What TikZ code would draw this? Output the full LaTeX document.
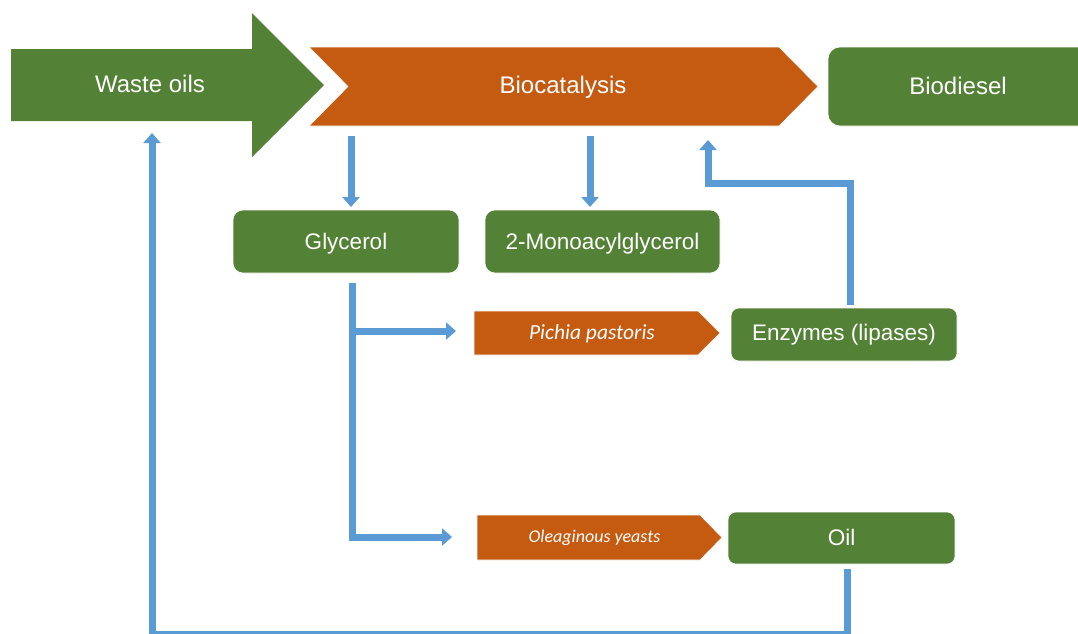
\documentclass[tikz,border=0pt]{standalone}
\usepackage{fontspec}
\setmainfont{Liberation Sans}
\newfontfamily\calibrifont{Carlito}
\usetikzlibrary{arrows.meta}
\definecolor{grn}{HTML}{538135}
\definecolor{org}{HTML}{C55A11}
\definecolor{blu}{HTML}{5B9BD5}
\tikzset{
  lbl/.style={text=white, inner sep=0pt, text depth=0pt, anchor=center},
  big/.style={lbl, font=\fontsize{24}{28}\selectfont, text height=17.2pt},
  mid/.style={lbl, font=\fontsize{22.5}{26}\selectfont, text height=16.1pt},
  itl/.style={lbl, font=\calibrifont\itshape\fontsize{21.5}{25}\selectfont, text height=13.8pt},
  itls/.style={lbl, font=\calibrifont\itshape\fontsize{18}{22}\selectfont, text height=11.6pt},
  gbox/.style={fill=grn, draw=white, line width=0.6pt, rounded corners=10pt},
  obox/.style={fill=org, draw=white, line width=0.6pt},
  conn/.style={draw=blu, line width=7pt, miter limit=10},
  arr/.style={conn, -{Triangle[width=17pt,length=10pt]}},
}
\begin{document}
\begin{tikzpicture}[x=1pt,y=-1pt]
\useasboundingbox (0,0) rectangle (1078,633);
\clip (0,0) rectangle (1078,633);
% shapes
\fill[grn] (11,49) -- (252,49) -- (252,13) -- (324,85) -- (252,157) -- (252,121) -- (11,121) -- cycle;
\path[obox] (309,47) -- (779,47) -- (818,86.5) -- (779,126) -- (309,126) -- (348,86.5) -- cycle;
\path[gbox, rounded corners=12pt] (828,47) rectangle (1095,126);
\path[gbox] (233,210) rectangle (459,273);
\path[gbox] (485,210) rectangle (720,273);
\path[obox] (474,311) -- (698,311) -- (720,333) -- (698,355) -- (474,355) -- cycle;
\path[gbox, rounded corners=8pt] (731,308) rectangle (957,361);
\path[obox] (477,515) -- (700,515) -- (722,537.5) -- (700,560) -- (477,560) -- cycle;
\path[gbox, rounded corners=8pt] (728,512) rectangle (955,564);
% labels
\node[big] (waste) at (150,83.5) {Waste oils};
\node[big] (bio) at (563,85) {Biocatalysis};
\node[big] (diesel) at (958,86) {Biodiesel};
\node[mid] (gly) at (346,241) {Glycerol};
\node[mid] (mono) at (602.5,241.5) {2-Monoacylglycerol};
\node[itl] (pichia) at (592,333) {Pichia pastoris};
\node[mid] (enz) at (844,332.5) {Enzymes (lipases)};
\node[itls] (olea) at (594.5,537) {Oleaginous yeasts};
\node[mid] (oil) at (841.5,537) {Oil};
% connector end points
\coordinate (b1) at (351,136);
\coordinate (g1) at (351,207);
\coordinate (b2) at (590,136);
\coordinate (m1) at (590,207);
\coordinate (e1) at (850,305);
\coordinate (k1) at (850,183);
\coordinate (k2) at (708,183);
\coordinate (b3) at (708,140);
\coordinate (g2) at (352,283);
\coordinate (k3) at (352,537);
\coordinate (o1) at (452,537);
\coordinate (k4) at (356,331);
\coordinate (p1) at (456,331);
\coordinate (l1) at (847,569);
\coordinate (k5) at (847,634);
\coordinate (k6) at (152,634);
\coordinate (w1) at (152,133);
% connectors
\draw[arr] (b1) -- (g1);
\draw[arr] (b2) -- (m1);
\draw[arr] (e1) -- (k1) -- (k2) -- (b3);
\draw[arr] (g2) -- (k3) -- (o1);
\draw[arr] (k4) -- (p1);
\draw[arr] (l1) -- (k5) -- (k6) -- (w1);
\end{tikzpicture}
\end{document}
